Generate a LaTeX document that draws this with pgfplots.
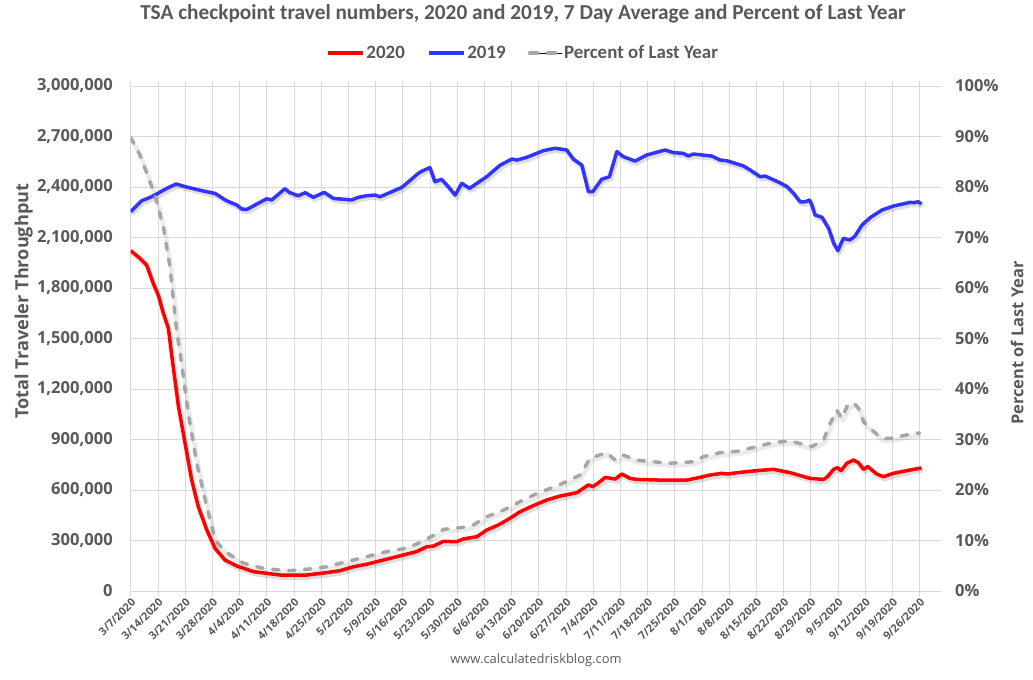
\documentclass[border=0pt]{standalone}
\usepackage{pgfplots}
\pgfplotsset{compat=1.18}
\usepackage{pgfplotstable}
\usepackage{fontspec}
\setmainfont{Open Sans}
\newfontfamily\carlito{Carlito}

\definecolor{txt}{HTML}{595959}
\definecolor{gridc}{HTML}{D9D9D9}
\definecolor{red20}{HTML}{FF0000}
\definecolor{blue19}{HTML}{3333FF}
\definecolor{pct}{HTML}{A6A6A6}

% day index (0 = 3/7/2020), 7 day average
\pgfplotstableread{
d v
0 2022000
2.4 1976000
4.1 1937000
5.8 1828000
7.1 1758000
8.4 1650000
9.7 1561000
10.6 1392000
12.3 1095000
14 877000
15.7 659000
17.4 501000
19.6 362000
21.7 254000
24.3 184000
27.3 149000
31.6 115000
35 105000
38.4 95000
45.3 95000
50.4 109000
53.9 121000
57.3 144000
60.7 159000
65 184000
69.2 208000
73.6 234000
76.2 263000
77.9 267000
80.5 295000
83.9 293000
85.6 309000
89.1 323000
91.6 362000
94.6 392000
97.6 432000
100.2 471000
103.6 507000
107.1 541000
110.5 564000
114.8 584000
116.5 610000
117.8 630000
118.9 620000
120.4 643000
122.1 675000
124.7 665000
126.4 695000
128.5 669000
130.2 663000
136.2 659000
143.1 659000
146.5 675000
149.1 689000
152.1 699000
153.4 695000
157.7 707000
161.1 715000
165.4 723000
169.7 703000
174.8 669000
178.3 663000
179.3 679000
180.9 723000
181.9 733000
182.8 715000
184.3 759000
186 778000
187.3 762000
188.6 723000
189.7 739000
192 695000
193.7 679000
196.3 699000
199.7 715000
203.5 731000
}\tblA

\pgfplotstableread{
d v
0 2253000
2.8 2318000
5.4 2342000
9.3 2392000
11.7 2418000
14 2402000
18.7 2376000
21.7 2362000
24.7 2318000
27.3 2293000
28.6 2269000
29.9 2267000
35 2330000
36.3 2323000
39.7 2390000
40.8 2368000
43.1 2348000
44.9 2366000
47 2339000
49.8 2368000
52.2 2332000
56.9 2323000
58.6 2339000
60.7 2348000
62.9 2352000
64.2 2342000
67.2 2372000
69.8 2398000
72.3 2447000
74 2481000
75 2495000
77 2515000
78.3 2431000
80 2446000
81.8 2400000
83.5 2352000
85.2 2422000
87.2 2392000
91.6 2461000
95.1 2530000
98.1 2566000
99.4 2560000
101.9 2576000
106.2 2616000
109.2 2630000
112.2 2620000
113.9 2566000
116.1 2530000
117.8 2372000
118.9 2372000
121.2 2446000
123.2 2461000
125.1 2610000
126.8 2580000
129.8 2554000
132.8 2590000
137.5 2620000
139.7 2604000
142.2 2600000
143.5 2584000
144.8 2596000
149.5 2584000
151.7 2560000
153.4 2556000
157.7 2525000
159.4 2501000
162 2461000
163.3 2465000
167.1 2425000
168.9 2402000
170.6 2362000
172.3 2312000
173.6 2312000
174.7 2323000
175.3 2293000
176.1 2234000
177.9 2220000
179.6 2155000
180.9 2066000
182 2022000
183.4 2095000
185.1 2085000
186.4 2109000
188.2 2174000
190.3 2218000
193.3 2263000
196.3 2287000
200.6 2309000
201.4 2307000
202.7 2312000
203.5 2299000
}\tblB

\pgfplotstableread{
d p
0 89.8
2.4 86.3
4.5 82.0
6.3 78.1
8.4 72.1
10.1 64.2
11.8 51.7
13.1 45.1
14.8 35.2
17 25.3
19.6 16.7
21.7 10.1
24.3 7.8
29 5.5
34.1 4.5
40.2 4.0
45.3 4.3
50.4 4.8
55.6 5.8
60.7 6.8
65.9 7.8
71 8.5
74.5 9.6
77.9 11.0
80.5 12.2
85.6 12.6
88.2 13.1
91.6 14.7
95.9 16.0
100.2 17.7
104.5 19.3
109.6 20.8
113.1 22.0
115.7 23.0
118.2 26.3
122.5 27.4
124.7 25.9
126.8 26.9
130.2 25.9
134.5 25.6
138.8 25.3
144.8 25.6
147.4 26.6
151.7 27.4
156.4 27.7
161.1 28.6
165.4 29.4
169.7 29.7
175.3 28.6
178.3 29.9
180 33.2
181.7 35.8
183 34.2
184.3 36.5
186 37.3
187.3 36.2
188.6 33.5
190.3 32.2
193.3 30.2
195.4 30.2
199.7 30.9
203 31.3
}\tblP

\tikzset{
  pctline/.style={pct, line width=3.5bp, dash pattern=on 6.5bp off 9.5bp, line cap=round, line join=round},
}
\pgfplotsset{
  base/.style={
    scale only axis, width=811bp, height=505bp,
    xmin=0, xmax=208.7,
    axis line style={draw=none},
    /pgf/number format/assume math mode=true,
    tick label style={font=\fontsize{16.6}{19}\selectfont\bfseries, text=txt},
    ytick style={draw=none},
  },
  shadow/.style={forget plot, draw=black, opacity=0.13, line width=4.5bp, xshift=1.5bp, yshift=-2.5bp, line join=round},
}

\begin{document}
\begin{tikzpicture}
\path[use as bounding box] (-130.7bp,-89bp) rectangle (902.3bp,591bp);
\begin{axis}[
  base,
  ymin=0, ymax=3000000,
  xtick={0,7,...,203},
  xticklabels={3/7/2020,3/14/2020,3/21/2020,3/28/2020,4/4/2020,4/11/2020,4/18/2020,4/25/2020,5/2/2020,5/9/2020,5/16/2020,5/23/2020,5/30/2020,6/6/2020,6/13/2020,6/20/2020,6/27/2020,7/4/2020,7/11/2020,7/18/2020,7/25/2020,8/1/2020,8/8/2020,8/15/2020,8/22/2020,8/29/2020,9/5/2020,9/12/2020,9/19/2020,9/26/2020},
  xticklabel style={font=\fontsize{11}{13}\selectfont\bfseries, rotate=45, anchor=north east, inner sep=1bp},
  xtick style={draw=gridc, line width=0.75bp},
  tick align=outside, major tick length=5bp,
  ytick={0,300000,...,3000000},
  scaled y ticks=false,
  yticklabel style={/pgf/number format/.cd, fixed, precision=0, 1000 sep={,}, /tikz/.cd, xshift=-9.5bp},
  grid=major, grid style={gridc, line width=0.75bp},
  ylabel={Total Traveler Throughput},
  ylabel style={font=\fontsize{18.2}{21}\selectfont\bfseries, text=txt, at={(axis description cs:-0.132,0.574)}, anchor=center},
  title={TSA checkpoint travel numbers, 2020 and 2019, 7 Day Average and Percent of Last Year},
  title style={font=\carlito\bfseries\fontsize{21.4}{25}\selectfont, text=txt, at={(axis description cs:0.4837,1.1307)}, anchor=center, yshift=0pt},
  legend style={at={(axis description cs:0.4837,1.0653)}, anchor=center, draw=none, fill=none,
    font=\carlito\bfseries\fontsize{19}{22}\selectfont, text=txt,
    /tikz/every even column/.append style={column sep=20bp}},
  legend columns=-1,
  legend image code/.code={\draw[#1] (0bp,0bp) -- (35bp,0bp);},
]
\addplot[shadow] table[x=d, y=v] {\tblB};
\addplot[shadow] table[x=d, y=v] {\tblA};
\addplot[red20, line width=3.5bp, line join=round] table[x=d, y=v] {\tblA};
\addlegendentry{2020}
\addplot[blue19, line width=3.5bp, line join=round] table[x=d, y=v] {\tblB};
\addlegendentry{2019}
\addlegendimage{legend image code/.code={\path (0bp,0bp) -- (34bp,0bp); \draw[pctline, dash pattern=on 8bp off 10bp] (1.75bp,0bp) -- (27.75bp,0bp);}}
\addlegendentry{Percent of Last Year}
\end{axis}
\begin{axis}[
  base,
  ymin=0, ymax=100,
  axis x line=none, axis y line*=right,
  ytick={0,10,...,100},
  yticklabel={\pgfmathprintnumber{\tick}\%},
  yticklabel style={xshift=10bp},
  ylabel={Percent of Last Year},
  every axis y label/.style={at={(axis description cs:1.093,0.491)}, anchor=center, rotate=90, font=\fontsize{16.5}{19}\selectfont\bfseries, text=txt},
]
\addplot[shadow, opacity=0.08] table[x=d, y=p] {\tblP};
\addplot[pctline] table[x=d, y=p] {\tblP};
\end{axis}
\node[font=\fontsize{13}{16}\selectfont, text=txt] at (405.3bp,-69bp) {www.calculatedriskblog.com};
\end{tikzpicture}
\end{document}
